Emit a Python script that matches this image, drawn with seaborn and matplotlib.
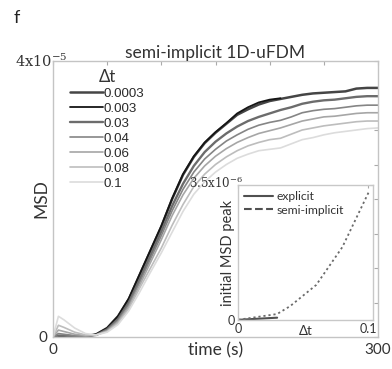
import matplotlib
matplotlib.use("Agg")
import matplotlib.pyplot as plt
import numpy as np
import pandas as pd
import seaborn as sns
from matplotlib.lines import Line2D

sns.set_theme(style="white")
plt.rcParams['font.family'] = ['Lato', 'DejaVu Sans']
plt.rcParams['mathtext.fontset'] = 'dejavuserif'

# ---------------- data (MSD in units of 1e-5) ----------------
time_s = [0, 5, 10, 20, 30, 40, 50, 60, 70, 80, 90, 100, 110, 120, 130, 140, 150,
          160, 170, 180, 190, 200, 210, 220, 230, 240, 250, 260, 270, 280, 290, 300]
dt_labels = ["0.0003", "0.003", "0.03", "0.04", "0.06", "0.08", "0.1"]

msd_0p0003 = [0, 0, 0, 0, 0.01, 0.04, 0.13, 0.30, 0.55, 0.90, 1.25, 1.60, 2.00, 2.35,
              2.61, 2.81, 2.96, 3.09, 3.22, 3.30, 3.37, 3.42, 3.45, 3.48, 3.51, 3.53,
              3.54, 3.55, 3.56, 3.60, 3.61, 3.61]
msd_0p003 = [0, 0, 0, 0, 0.01, 0.04, 0.13, 0.30, 0.56, 0.91, 1.26, 1.61, 2.01, 2.36,
             2.62, 2.82, 2.97, 3.10, 3.24, 3.33, 3.40, 3.44, 3.46]
msd_0p03 = [0, 0.02, 0.02, 0.01, 0.01, 0.03, 0.11, 0.26, 0.50, 0.83, 1.18, 1.53, 1.90,
            2.22, 2.48, 2.68, 2.83, 2.95, 3.05, 3.13, 3.19, 3.24, 3.29, 3.33, 3.38,
            3.41, 3.43, 3.44, 3.46, 3.48, 3.49, 3.49]
msd_0p04 = [0, 0.05, 0.04, 0.02, 0.01, 0.03, 0.10, 0.24, 0.47, 0.79, 1.13, 1.47, 1.83,
            2.14, 2.39, 2.58, 2.72, 2.84, 2.93, 3.01, 3.07, 3.11, 3.14, 3.19, 3.25,
            3.28, 3.30, 3.31, 3.33, 3.35, 3.36, 3.36]
msd_0p06 = [0, 0.10, 0.08, 0.04, 0.02, 0.03, 0.09, 0.22, 0.44, 0.75, 1.08, 1.41, 1.76,
            2.06, 2.30, 2.48, 2.62, 2.73, 2.82, 2.89, 2.95, 2.99, 3.03, 3.08, 3.13,
            3.16, 3.19, 3.20, 3.22, 3.24, 3.25, 3.25]
msd_0p08 = [0, 0.17, 0.14, 0.07, 0.03, 0.03, 0.08, 0.20, 0.41, 0.71, 1.00, 1.29, 1.62,
            1.92, 2.18, 2.36, 2.50, 2.61, 2.70, 2.77, 2.82, 2.86, 2.88, 2.94, 3.00,
            3.03, 3.06, 3.08, 3.10, 3.12, 3.13, 3.13]
msd_0p1 = [0, 0.30, 0.25, 0.13, 0.05, 0.03, 0.07, 0.18, 0.38, 0.65, 0.94, 1.22, 1.52,
           1.82, 2.07, 2.25, 2.39, 2.50, 2.59, 2.65, 2.70, 2.72, 2.74, 2.80, 2.86,
           2.89, 2.93, 2.96, 2.98, 3.00, 3.02, 3.03]

# inset: initial MSD peak (units of 1e-6)
semi_dt = [0.0003, 0.003, 0.03, 0.04, 0.06, 0.08, 0.1]
semi_peak = [0.01, 0.02, 0.155, 0.36, 0.91, 1.89, 3.30]
expl_dt = [0.0003, 0.003, 0.03]
expl_peak = [0.0, 0.01, 0.06]

xtick_vals = [0, 50, 100, 150, 200, 250, 300]
xtick_labels = ["0", "", "", "", "", "", "300"]
ytick_vals = [0, 0.5e-5, 1e-5, 1.5e-5, 2e-5, 2.5e-5, 3e-5, 3.5e-5, 4e-5]

series = [msd_0p0003, msd_0p003, msd_0p03, msd_0p04, msd_0p06, msd_0p08, msd_0p1]
colors = ["#454545", "#151515", "#6c6c6c", "#858585", "#a6a6a6", "#bdbdbd", "#dcdcdc"]
widths = [1.8, 1.3, 1.7, 1.2, 1.2, 1.2, 1.2]

rows = []
for lab, vals in zip(dt_labels, series):
    for t, v in zip(time_s, vals):
        rows.append({"time": t, "msd": v * 1e-5, "dt": lab})
df = pd.DataFrame(rows)

fig = plt.figure(figsize=(3.92, 3.69), dpi=100)
ax = fig.add_axes([53/392, 32/369, 325/392, 276/369])

handles = []
for lab, c, w in zip(dt_labels, colors, widths):
    sub = df[df["dt"] == lab]
    sns.lineplot(data=sub, x="time", y="msd", color=c, lw=w, ax=ax, legend=False)
    handles.append(Line2D([], [], color=c, lw=w, label=lab))

ax.set_xlim(0, 300)
ax.set_ylim(0, 4e-5)
ax.set_xticks(xtick_vals)
ax.set_xticklabels(xtick_labels, fontsize=11, color="#333333")
ax.set_yticks(ytick_vals)
ax.set_yticklabels(["0"] + [""] * 8, fontsize=11, color="#333333")
ax.tick_params(direction="in", length=3, width=0.8, color="#aaaaaa",
               top=True, right=True, pad=4)
for s in ax.spines.values():
    s.set_color("#c4c4c4")
    s.set_linewidth(1.0)
ax.text(-0.118, 1.0, r"$4\mathrm{x}10^{-5}$", transform=ax.transAxes,
        fontsize=10.5, ha="left", va="center", color="#333333")
ax.set_xlabel("time (s)", fontsize=12.5, color="#333333")
ax.xaxis.label.set_va("center")
ax.xaxis.set_label_coords(0.5, -0.047)
ax.set_ylabel("MSD", fontsize=12.5, color="#333333")
ax.yaxis.label.set_va("center")
ax.yaxis.set_label_coords(-0.037, 0.5)
ax.set_title("semi-implicit 1D-uFDM", fontsize=12.5, color="#333333", pad=2)
fig.text(17/392, 1 - 18/369, "f", fontsize=13, ha="center", va="center", color="#222222")

leg = ax.legend(handles=handles, title="Δt", loc="upper left",
                bbox_to_anchor=(0.035, 0.99), frameon=False,
                prop={"family": "Liberation Sans", "size": 9.6},
                handlelength=2.5, handletextpad=0.05, labelspacing=0.2,
                borderaxespad=0.0)
leg.get_title().set_fontsize(12)
leg.get_title().set_color("#333333")
for t in leg.get_texts():
    t.set_color("#2a2a2a")

# ---------------- inset ----------------
ins = fig.add_axes([238/392, 49/369, 135/392, 135/369])
ins.set_facecolor("white")
sns.lineplot(x=[d for d in expl_dt], y=[p * 1e-6 for p in expl_peak], ax=ins,
             color="#505050", lw=1.5, legend=False)
sns.lineplot(x=[d for d in semi_dt], y=[p * 1e-6 for p in semi_peak], ax=ins,
             color="#6a6a6a", lw=1.3, legend=False, linestyle=(0, (1.2, 1.6)))
ins.set_xlim(0, 0.1035)
ins.set_ylim(0, 3.5e-6)
ins.set_xticks([0, 0.1])
ins.set_xticklabels(["0", "0.1"], fontsize=9, color="#333333")
ins.set_yticks([0, 3.5e-6])
ins.set_yticklabels(["0", ""], fontsize=9, color="#333333")
ins.tick_params(direction="in", length=2, width=0.8, color="#aaaaaa",
                top=True, right=True, pad=2)
for s in ins.spines.values():
    s.set_color("#c8c8c8")
    s.set_linewidth(1.0)
ins.text(-0.365, 1.02, r"$3.5\mathrm{x}10^{-6}$", transform=ins.transAxes,
         fontsize=8.5, ha="left", va="center", color="#333333")
ins.set_xlabel("Δt", fontsize=9.5, color="#333333")
ins.xaxis.label.set_va("center")
ins.xaxis.set_label_coords(0.5, -0.085)
ins.set_ylabel("initial MSD peak", fontsize=10.5, color="#333333")
ins.yaxis.label.set_va("center")
ins.yaxis.set_label_coords(-0.075, 0.5)
ih = [Line2D([], [], color="#505050", lw=1.5, label="explicit"),
      Line2D([], [], color="#505050", lw=1.5, ls="--", label="semi-implicit")]
il = ins.legend(handles=ih, loc="upper left", bbox_to_anchor=(0.01, 0.99),
                frameon=False, fontsize=8.7, handlelength=2.4, handletextpad=0.3,
                labelspacing=0.2, borderaxespad=0.0)
for t in il.get_texts():
    t.set_color("#333333")

fig.savefig("out.png", dpi=100)
